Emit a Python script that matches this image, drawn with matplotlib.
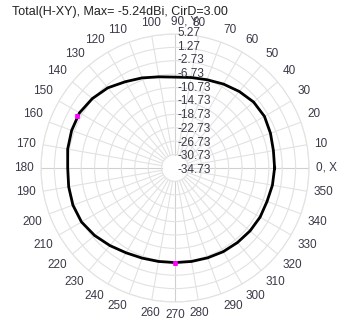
import numpy as np
import matplotlib.pyplot as plt
from matplotlib.transforms import offset_copy

plt.rcParams['font.family'] = ['Liberation Sans', 'DejaVu Sans']

title = "Total(H-XY), Max= -5.24dBi, CirD=3.00"

# pattern (deg, dB)
angles = [0, 10, 20, 30, 40, 50, 60, 70, 80, 90, 100, 110, 120, 130, 140, 150,
          160, 170, 180, 190, 200, 210, 220, 230, 240, 250, 260, 270, 280, 290,
          300, 310, 320, 330, 340, 350, 360]
gain = [-5.0, -4.9, -4.4, -3.9, -4.1, -4.9, -5.8, -6.7, -7.3, -7.6, -7.1, -6.1,
        -5.0, -3.5, -2.5, -1.8, -1.9, -2.2, -2.7, -2.5, -2.3, -2.5, -3.4, -4.5,
        -5.5, -6.1, -6.4, -6.5, -6.4, -6.2, -5.9, -5.7, -5.5, -5.4, -5.5, -5.2,
        -5.0]
mark_ang = [152, 270]
mark_val = [-1.7, -6.5]

rticks = [5.27, 1.27, -2.73, -6.73, -10.73, -14.73, -18.73, -22.73, -26.73,
          -30.73, -34.73]
rmin, rmax = -34.73, 5.27

W, H = 349, 320
fig = plt.figure(figsize=(W / 100, H / 100), dpi=100)
cx, cy, R = 175, 168, 134
ax = fig.add_axes([(cx - R) / W, (H - cy - R) / H, 2 * R / W, 2 * R / H],
                  projection='polar')
ax.set_ylim(rmin, rmax)
ax.set_yticks(rticks[:-1])
ax.set_yticklabels([])
ax.set_xticks([])
ax.grid(True, color='#e2e2e2', lw=0.8)
ax.spines['polar'].set_color('#e2e2e2')
ax.spines['polar'].set_linewidth(0.8)

# spokes stop at the inner ring
for a in range(0, 360, 10):
    c = '#d0d0d0' if a % 90 == 0 else '#e2e2e2'
    ax.plot([np.radians(a)] * 2, [rticks[-2], rmax], color=c, lw=0.8, zorder=1)

th = np.radians(angles)
ax.plot(th, gain, color='black', lw=2.0, zorder=3)
ax.plot(np.radians(mark_ang), mark_val, 's', color='magenta', ms=3,
        mec='magenta', mew=0.5, zorder=4)

# angle labels
px2db = (rmax - rmin) / R
rl = rmin + 141 * px2db
for a in range(0, 360, 10):
    txt = str(a)
    if a == 0:
        txt = "0, X"
    elif a == 90:
        txt = "90, Y"
    c, s = np.cos(np.radians(a)), np.sin(np.radians(a))
    ha = 'left' if c > 0.3 else ('right' if c < -0.3 else 'center')
    va = 'bottom' if s > 0.3 else ('top' if s < -0.3 else 'center')
    tr = ax.transData
    if a == 90:
        ha = 'left'
        tr = offset_copy(ax.transData, fig=fig, x=-4, y=0, units='dots')
    ax.text(np.radians(a), rl, txt, ha=ha, va=va, fontsize=8.5,
            color='#3a3a48', transform=tr, clip_on=False)

# radial labels along the 90 deg spoke
for i, v in enumerate(rticks):
    rp = 135 - 13.7 * i
    dy = min(rp, 0)
    tr = offset_copy(ax.transData, fig=fig, x=2, y=dy, units='dots')
    ax.text(np.pi / 2, rmin + max(rp, 0) * px2db, f"{v:.2f}",
            ha='left', va='center', fontsize=8.5, color='#3a3a48',
            transform=tr, clip_on=False)

fig.text(12 / W, 1 - 12 / H, title, ha='left', va='center', fontsize=9,
         color='#222222')

fig.savefig('out.png', dpi=100)
